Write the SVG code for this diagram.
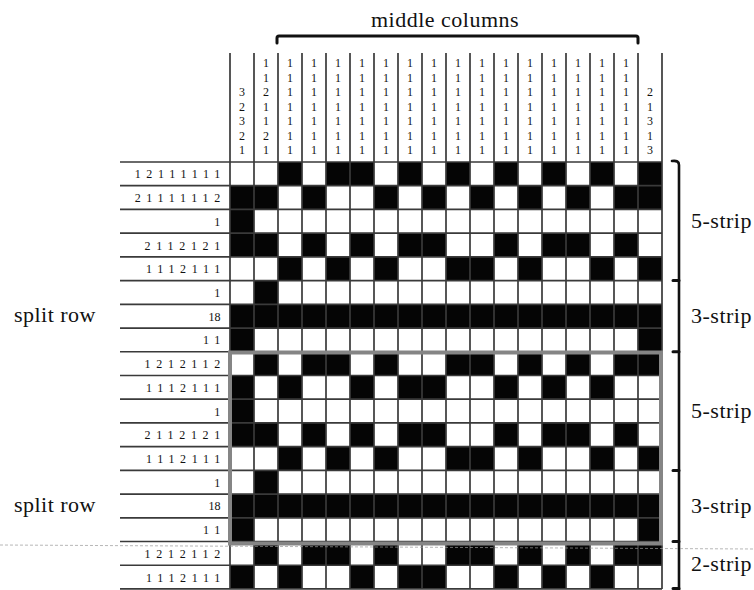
<svg xmlns="http://www.w3.org/2000/svg" width="754" height="590" viewBox="0 0 754 590">
<style>
text{font-family:"Liberation Serif",Tinos,"Times New Roman",Times,"Nimbus Roman","Nimbus Roman No9 L","DejaVu Serif","Noto Serif",FreeSerif,serif}
.b{fill:#050505}
.grid{stroke:#3a3a3a;stroke-width:1.7;fill:none}
.lbl{font-size:22px;letter-spacing:0.5px;fill:#111}
.rc{font-size:12px;letter-spacing:5.7px;fill:#111;text-anchor:end}
.rn{font-size:12px;fill:#111;text-anchor:end}
.cc{font-size:12px;fill:#111;text-anchor:middle}
.br{stroke:#111;fill:none;stroke-linecap:round}
</style>
<defs>
<g id="pA"><rect class="b" x="278" y="0" width="24" height="23.72"/><rect class="b" x="326" y="0" width="48" height="23.72"/><rect class="b" x="398" y="0" width="24" height="23.72"/><rect class="b" x="446" y="0" width="24" height="23.72"/><rect class="b" x="494" y="0" width="24" height="23.72"/><rect class="b" x="542" y="0" width="24" height="23.72"/><rect class="b" x="590" y="0" width="24" height="23.72"/><rect class="b" x="638" y="0" width="24" height="23.72"/></g>
<g id="pB"><rect class="b" x="230" y="0" width="48" height="23.72"/><rect class="b" x="302" y="0" width="24" height="23.72"/><rect class="b" x="374" y="0" width="24" height="23.72"/><rect class="b" x="422" y="0" width="24" height="23.72"/><rect class="b" x="470" y="0" width="24" height="23.72"/><rect class="b" x="518" y="0" width="24" height="23.72"/><rect class="b" x="566" y="0" width="24" height="23.72"/><rect class="b" x="614" y="0" width="48" height="23.72"/></g>
<g id="pC"><rect class="b" x="230" y="0" width="24" height="23.72"/></g>
<g id="pD"><rect class="b" x="230" y="0" width="48" height="23.72"/><rect class="b" x="302" y="0" width="24" height="23.72"/><rect class="b" x="350" y="0" width="24" height="23.72"/><rect class="b" x="398" y="0" width="48" height="23.72"/><rect class="b" x="494" y="0" width="24" height="23.72"/><rect class="b" x="542" y="0" width="48" height="23.72"/><rect class="b" x="614" y="0" width="24" height="23.72"/></g>
<g id="pE"><rect class="b" x="278" y="0" width="24" height="23.72"/><rect class="b" x="326" y="0" width="24" height="23.72"/><rect class="b" x="374" y="0" width="24" height="23.72"/><rect class="b" x="446" y="0" width="48" height="23.72"/><rect class="b" x="518" y="0" width="24" height="23.72"/><rect class="b" x="590" y="0" width="24" height="23.72"/><rect class="b" x="638" y="0" width="24" height="23.72"/></g>
<g id="pF"><rect class="b" x="254" y="0" width="24" height="23.72"/></g>
<g id="pG"><rect class="b" x="230" y="0" width="432" height="23.72"/></g>
<g id="pH"><rect class="b" x="230" y="0" width="24" height="23.72"/><rect class="b" x="638" y="0" width="24" height="23.72"/></g>
<g id="pI"><rect class="b" x="254" y="0" width="24" height="23.72"/><rect class="b" x="302" y="0" width="48" height="23.72"/><rect class="b" x="374" y="0" width="24" height="23.72"/><rect class="b" x="446" y="0" width="48" height="23.72"/><rect class="b" x="518" y="0" width="24" height="23.72"/><rect class="b" x="566" y="0" width="24" height="23.72"/><rect class="b" x="614" y="0" width="48" height="23.72"/></g>
<g id="pJ"><rect class="b" x="230" y="0" width="24" height="23.72"/><rect class="b" x="278" y="0" width="24" height="23.72"/><rect class="b" x="350" y="0" width="24" height="23.72"/><rect class="b" x="398" y="0" width="48" height="23.72"/><rect class="b" x="494" y="0" width="24" height="23.72"/><rect class="b" x="542" y="0" width="24" height="23.72"/><rect class="b" x="590" y="0" width="24" height="23.72"/></g>
<g id="ones"><text class="cc" x="0" y="67">1</text><text class="cc" x="0" y="81.5">1</text><text class="cc" x="0" y="96">1</text><text class="cc" x="0" y="110.5">1</text><text class="cc" x="0" y="125">1</text><text class="cc" x="0" y="139.5">1</text><text class="cc" x="0" y="154">1</text></g>
</defs>
<rect width="754" height="590" fill="#fff"/>

<g id="title">
<text class="lbl" x="445" y="27" text-anchor="middle">middle columns</text>
</g>
<g id="bracket-top">
<path class="br" stroke-width="3" d="M277,43 L277,38 Q277,36 279,36 L636,36 Q638,36 638,38 L638,43"/>
</g>

<g id="cells">
<use href="#pA" y="162"/>
<use href="#pB" y="185.72"/>
<use href="#pC" y="209.44"/>
<use href="#pD" y="233.16"/>
<use href="#pE" y="256.88"/>
<use href="#pF" y="280.6"/>
<use href="#pG" y="304.32"/>
<use href="#pH" y="328.04"/>
<use href="#pI" y="351.76"/>
<use href="#pJ" y="375.48"/>
<use href="#pC" y="399.2"/>
<use href="#pD" y="422.92"/>
<use href="#pE" y="446.64"/>
<use href="#pF" y="470.36"/>
<use href="#pG" y="494.08"/>
<use href="#pH" y="517.8"/>
<use href="#pI" y="541.52"/>
<use href="#pJ" y="565.24"/>
</g>

<g id="gridlines">
<path class="grid" d="M230,53V589M254,53V589M278,53V589M302,53V589M326,53V589M350,53V589M374,53V589M398,53V589M422,53V589M446,53V589M470,53V589M494,53V589M518,53V589M542,53V589M566,53V589M590,53V589M614,53V589M638,53V589M662,53V589"/>
<path class="grid" d="M120,162H662M120,185.72H662M120,209.44H662M120,233.16H662M120,256.88H662M120,280.6H662M120,304.32H662M120,328.04H662M120,351.76H662M120,375.48H662M120,399.2H662M120,422.92H662M120,446.64H662M120,470.36H662M120,494.08H662M120,517.8H662M120,541.52H662M120,565.24H662M120,588.96H662"/>
</g>

<g id="highlight">
<rect x="230" y="352.5" width="431" height="191" fill="none" stroke="#858585" stroke-width="4"/>
</g>

<g id="col-clues">
<text class="cc" x="242" y="96">3</text><text class="cc" x="242" y="110.5">2</text><text class="cc" x="242" y="125">3</text><text class="cc" x="242" y="139.5">2</text><text class="cc" x="242" y="154">1</text>
<text class="cc" x="266" y="67">1</text><text class="cc" x="266" y="81.5">1</text><text class="cc" x="266" y="96">2</text><text class="cc" x="266" y="110.5">1</text><text class="cc" x="266" y="125">1</text><text class="cc" x="266" y="139.5">2</text><text class="cc" x="266" y="154">1</text>
<use href="#ones" x="290"/><use href="#ones" x="314"/><use href="#ones" x="338"/><use href="#ones" x="362"/><use href="#ones" x="386"/><use href="#ones" x="410"/><use href="#ones" x="434"/><use href="#ones" x="458"/><use href="#ones" x="482"/><use href="#ones" x="506"/><use href="#ones" x="530"/><use href="#ones" x="554"/><use href="#ones" x="578"/><use href="#ones" x="602"/><use href="#ones" x="626"/>
<text class="cc" x="650" y="96">2</text><text class="cc" x="650" y="110.5">1</text><text class="cc" x="650" y="125">3</text><text class="cc" x="650" y="139.5">1</text><text class="cc" x="650" y="154">3</text>
</g>

<g id="row-clues">
<text class="rc" x="226" y="178.4">12111111</text>
<text class="rc" x="226" y="202.1">21111112</text>
<text class="rc" x="226" y="225.8">1</text>
<text class="rc" x="226" y="249.5">2112121</text>
<text class="rc" x="226" y="273.2">1112111</text>
<text class="rc" x="226" y="297">1</text>
<text class="rn" x="220.5" y="320.7">18</text>
<text class="rc" x="226" y="344.4">11</text>
<text class="rc" x="226" y="368.1">1212112</text>
<text class="rc" x="226" y="391.8">1112111</text>
<text class="rc" x="226" y="415.6">1</text>
<text class="rc" x="226" y="439.3">2112121</text>
<text class="rc" x="226" y="463">1112111</text>
<text class="rc" x="226" y="486.7">1</text>
<text class="rn" x="220.5" y="510.4">18</text>
<text class="rc" x="226" y="534.2">11</text>
<text class="rc" x="226" y="557.9">1212112</text>
<text class="rc" x="226" y="581.6">1112111</text>
</g>

<g id="split-labels">
<text class="lbl" x="96" y="322" text-anchor="end">split row</text>
<text class="lbl" x="96" y="512" text-anchor="end">split row</text>
</g>

<g id="bracket-right">
<path class="br" stroke-width="2.6" d="M672,161 Q679,160 679,165 L679,590"/>
<path class="br" stroke-width="3" d="M673,280.6H679M673,351.8H679M673,470.4H679M673,541.5H679M673,588.5H679"/>
</g>

<g id="strip-labels">
<text class="lbl" x="691" y="228">5-strip</text>
<text class="lbl" x="691" y="323">3-strip</text>
<text class="lbl" x="691" y="418">5-strip</text>
<text class="lbl" x="691" y="513">3-strip</text>
<text class="lbl" x="691" y="571">2-strip</text>
</g>

<g id="scanline">
<line x1="0" y1="545" x2="754" y2="549" stroke="#9a9a9a" stroke-width="1" stroke-dasharray="3 2" opacity="0.7"/>
</g>
</svg>
